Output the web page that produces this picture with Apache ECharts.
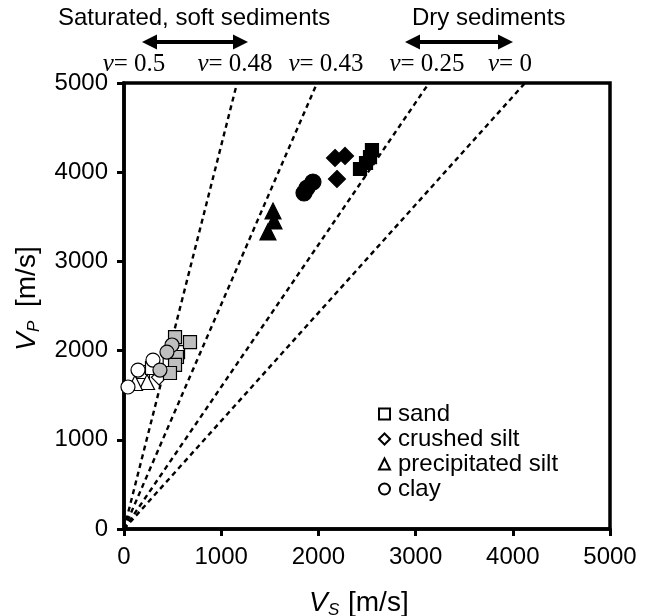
<!DOCTYPE html>
<html lang="en">
<head>
<meta charset="UTF-8">
<title>Vp vs Vs</title>
<script src="https://cdn.jsdelivr.net/npm/echarts@6.0.0/dist/echarts.min.js"></script>
<style>
    html, body { margin: 0; padding: 0; background: #fff; }
    #chart { width: 645px; height: 616px; }
</style>
</head>
<body>
<div id="chart"></div>
<script>
// Poisson ratio reference lines: Vs [m/s] where each dashed line reaches Vp = 5000
var nuLines = ['0.48', '0.43', '0.25', '0'];
var nuTopVs = [1163, 1986, 3138, 4126];
var nuLabels = ['0.5', '0.48', '0.43', '0.25', '0'];

// points as [Vs, Vp] in m/s
var sandWhite = [[195, 1760], [288, 1805], [556, 1984], [470, 1880]];
var sandGray = [[679, 2096], [525, 2152], [545, 1928], [525, 1839], [473, 1749]];
var sandBlack = [[2551, 4249], [2531, 4170], [2490, 4103], [2428, 4036]];

var siltWhite = [[360, 1700]];
var siltBlack = [[2171, 4159], [2274, 4182], [2191, 3924]];

var precWhite = [[237, 1648], [113, 1637]];
var precBlack = [[1533, 3565], [1543, 3453], [1481, 3330]];

var clayWhite = [[298, 1894], [144, 1782], [41, 1592]];
var clayGray = [[494, 2063], [442, 1984], [370, 1782]];
var clayBlack = [[1944, 3890], [1883, 3823], [1852, 3767]];

var FONT = 'Liberation Sans';
var chart = echarts.init(document.getElementById('chart'));

function pts(name, shape, size, fill, data) {
    return {
        name: name,
        type: 'scatter',
        symbol: shape,
        symbolSize: size,
        data: data,
        itemStyle: {color: fill, borderColor: '#000', borderWidth: 1.2, opacity: 1},
        emphasis: {disabled: true},
        z: 3
    };
}

var series = [];
nuLines.forEach(function (nu, i) {
    series.push({
        name: 'nu ' + nu,
        type: 'line',
        data: [[0, 0], [nuTopVs[i], 5000]],
        symbol: 'none',
        lineStyle: {color: '#000', width: 2.4, type: [5, 4]},
        silent: true,
        z: 2
    });
});
series.push(pts('sand', 'rect', 13, '#fff', sandWhite));
series.push(pts('crushed silt', 'diamond', 15, '#fff', siltWhite));
series.push(pts('precipitated silt', 'triangle', 15, '#fff', precWhite));
series.push(pts('clay', 'circle', 14, '#fff', clayWhite));
series.push(pts('sand (gray)', 'rect', 13, '#bfbfbf', sandGray));
series.push(pts('clay (gray)', 'circle', 14, '#bfbfbf', clayGray));
series.push(pts('sand (black)', 'rect', 13, '#000', sandBlack));
series.push(pts('crushed silt (black)', 'diamond', 17, '#000', siltBlack));
series.push(pts('precipitated silt (black)', 'triangle', 16, '#000', precBlack));
series.push(pts('clay (black)', 'circle', 16, '#000', clayBlack));

function axis() {
    return {
        type: 'value',
        min: 0,
        max: 5000,
        interval: 1000,
        axisLine: {lineStyle: {color: '#000', width: 3.5}},
        axisTick: {length: 7, lineStyle: {color: '#000', width: 3}},
        axisLabel: {
            color: '#000', fontSize: 24, fontFamily: FONT, margin: 16,
            formatter: function (v) { return String(v); }
        },
        splitLine: {show: false}
    };
}

// text above the plot
var graphics = [
    {type: 'text', left: 58, top: 6, style: {text: 'Saturated, soft sediments', font: '24px ' + FONT, fill: '#000'}},
    {type: 'text', left: 412, top: 6, style: {text: 'Dry sediments', font: '24px ' + FONT, fill: '#000'}}
];

function arrow(x1, x2, y) {
    var h = 15, w = 7.5;
    graphics.push({type: 'line', shape: {x1: x1 + h - 2, y1: y, x2: x2 - h + 2, y2: y}, style: {stroke: '#000', lineWidth: 4}});
    graphics.push({type: 'polygon', shape: {points: [[x1, y], [x1 + h, y - w], [x1 + h, y + w]]}, style: {fill: '#000'}});
    graphics.push({type: 'polygon', shape: {points: [[x2, y], [x2 - h, y - w], [x2 - h, y + w]]}, style: {fill: '#000'}});
}
arrow(142, 248, 42);
arrow(405, 513, 42);

var nuCenters = [134, 235, 326, 427, 510];
nuLabels.forEach(function (lab, i) {
    graphics.push({
        type: 'text',
        x: nuCenters[i],
        y: 64,
        style: {
            text: '{n|ν}= ' + lab,
            font: '25px Liberation Serif',
            fill: '#000',
            align: 'center',
            verticalAlign: 'middle',
            rich: {n: {fontStyle: 'italic', fontSize: 25, fontFamily: 'Liberation Serif'}}
        }
    });
});

// axis titles with subscripts
function axisTitle(x, y, rot, main, sub, gap) {
    graphics.push({
        type: 'group',
        x: x,
        y: y,
        rotation: rot,
        children: [
            {type: 'text', x: 0, y: 0, style: {text: main, font: 'italic 28px ' + FONT, fill: '#000', verticalAlign: 'middle'}},
            {type: 'text', x: 19, y: 7, style: {text: sub, font: 'italic 17px ' + FONT, fill: '#000', verticalAlign: 'middle'}},
            {type: 'text', x: gap, y: 0, style: {text: '[m/s]', font: '28px ' + FONT, fill: '#000', verticalAlign: 'middle'}}
        ]
    });
}
axisTitle(309, 603, 0, 'V', 'S', 39);
axisTitle(27, 351, Math.PI / 2, 'V', 'P', 44);

chart.setOption({
    animation: false,
    grid: {left: 124, top: 83, width: 486, height: 446, show: true, borderColor: '#000', borderWidth: 3.5},
    xAxis: axis(),
    yAxis: axis(),
    legend: {
        data: ['sand', 'crushed silt', 'precipitated silt', 'clay'],
        orient: 'vertical',
        left: 373,
        top: 397,
        itemWidth: 11,
        itemHeight: 11,
        itemGap: 1,
        selectedMode: false,
        textStyle: {color: '#000', fontSize: 24, fontFamily: FONT, padding: [0, 0, 0, 3]}
    },
    graphic: graphics,
    series: series
});
</script>
</body>
</html>
